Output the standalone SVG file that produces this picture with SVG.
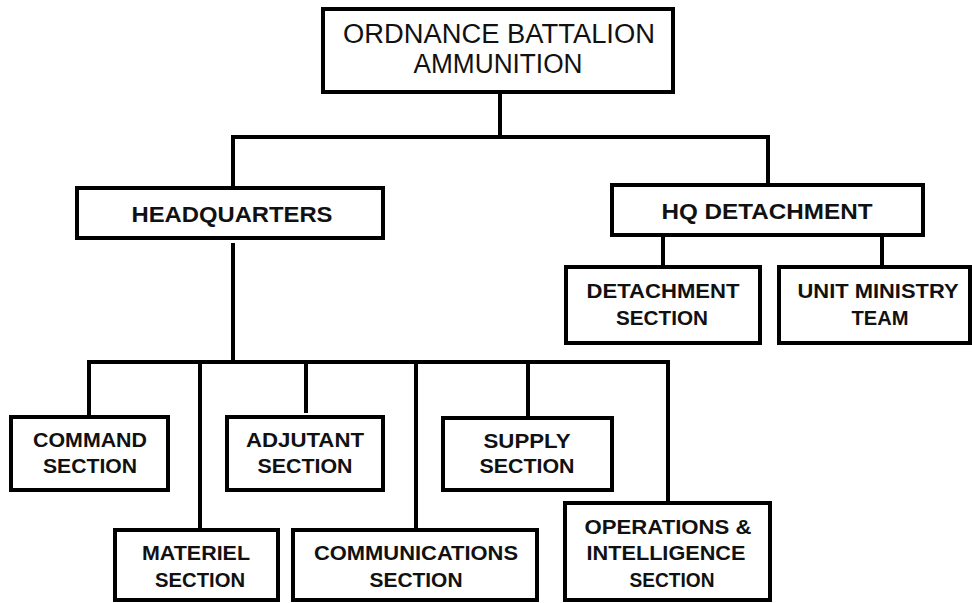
<svg xmlns="http://www.w3.org/2000/svg" width="972" height="603" viewBox="0 0 972 603">
<style>
  .box { fill: #ffffff; stroke: #000000; stroke-width: 4; }
  .ln { fill: none; stroke: #000000; stroke-width: 4; stroke-linecap: square; }
  text { font-family: "Liberation Sans", Arial, sans-serif; fill: #111111; text-anchor: middle; }
  .t1 { font-size: 27px; font-weight: normal; }
  .t2 { font-size: 22px; font-weight: bold; }
  .t3 { font-size: 21px; font-weight: bold; }
</style>
<rect width="972" height="603" fill="#ffffff"/>
<g id="connectors">
  <path class="ln" d="M500 92 V137 M233 137 H768 M233 137 V188 M768 137 V185"/>
  <path class="ln" d="M663 235 V267 M882 235 V267"/>
  <path class="ln" d="M233 245 V362 M89 362 H668"/>
  <path class="ln" d="M89 362 V417 M200 362 V530 M306 362 V411 M416 362 V530 M528 362 V418 M668 362 V503"/>
</g>
<g id="ordnance-battalion">
  <rect class="box" x="323" y="9" width="350" height="83"/>
  <text class="t1" x="499" y="43" textLength="312" lengthAdjust="spacingAndGlyphs">ORDNANCE BATTALION</text>
  <text class="t1" x="498" y="73" textLength="169" lengthAdjust="spacingAndGlyphs">AMMUNITION</text>
</g>
<g id="headquarters">
  <rect class="box" x="77" y="188" width="306" height="50"/>
  <text class="t2" x="232" y="222" textLength="201" lengthAdjust="spacingAndGlyphs">HEADQUARTERS</text>
</g>
<g id="hq-detachment">
  <rect class="box" x="612" y="185" width="311" height="50"/>
  <text class="t2" x="767" y="219" textLength="211" lengthAdjust="spacingAndGlyphs">HQ DETACHMENT</text>
</g>
<g id="detachment-section">
  <rect class="box" x="566" y="267" width="194" height="76"/>
  <text class="t3" x="663" y="298" textLength="153" lengthAdjust="spacingAndGlyphs">DETACHMENT</text>
  <text class="t3" x="662" y="325" textLength="92" lengthAdjust="spacingAndGlyphs">SECTION</text>
</g>
<g id="unit-ministry-team">
  <rect class="box" x="779" y="267" width="191" height="76"/>
  <text class="t3" x="878" y="298" textLength="161" lengthAdjust="spacingAndGlyphs">UNIT MINISTRY</text>
  <text class="t3" x="880" y="325" textLength="57" lengthAdjust="spacingAndGlyphs">TEAM</text>
</g>
<g id="command-section">
  <rect class="box" x="11" y="417" width="157" height="73"/>
  <text class="t3" x="90" y="447" textLength="114" lengthAdjust="spacingAndGlyphs">COMMAND</text>
  <text class="t3" x="90" y="473" textLength="94" lengthAdjust="spacingAndGlyphs">SECTION</text>
</g>
<g id="adjutant-section">
  <rect class="box" x="227" y="417" width="156" height="73"/>
  <text class="t3" x="305" y="447" textLength="118" lengthAdjust="spacingAndGlyphs">ADJUTANT</text>
  <text class="t3" x="305" y="473" textLength="95" lengthAdjust="spacingAndGlyphs">SECTION</text>
</g>
<g id="supply-section">
  <rect class="box" x="443" y="418" width="169" height="72"/>
  <text class="t3" x="527" y="448" textLength="87" lengthAdjust="spacingAndGlyphs">SUPPLY</text>
  <text class="t3" x="527" y="473" textLength="95" lengthAdjust="spacingAndGlyphs">SECTION</text>
</g>
<g id="materiel-section">
  <rect class="box" x="115" y="530" width="163" height="70"/>
  <text class="t3" x="196" y="560" textLength="108" lengthAdjust="spacingAndGlyphs">MATERIEL</text>
  <text class="t3" x="200" y="587" textLength="90" lengthAdjust="spacingAndGlyphs">SECTION</text>
</g>
<g id="communications-section">
  <rect class="box" x="293" y="530" width="244" height="70"/>
  <text class="t3" x="416" y="560" textLength="204" lengthAdjust="spacingAndGlyphs">COMMUNICATIONS</text>
  <text class="t3" x="416" y="587" textLength="93" lengthAdjust="spacingAndGlyphs">SECTION</text>
</g>
<g id="operations-intelligence-section">
  <rect class="box" x="565" y="503" width="205" height="97"/>
  <text class="t3" x="668" y="534" textLength="167" lengthAdjust="spacingAndGlyphs">OPERATIONS &amp;</text>
  <text class="t3" x="666" y="560" textLength="159" lengthAdjust="spacingAndGlyphs">INTELLIGENCE</text>
  <text class="t3" x="672" y="587" textLength="85" lengthAdjust="spacingAndGlyphs">SECTION</text>
</g>
</svg>
